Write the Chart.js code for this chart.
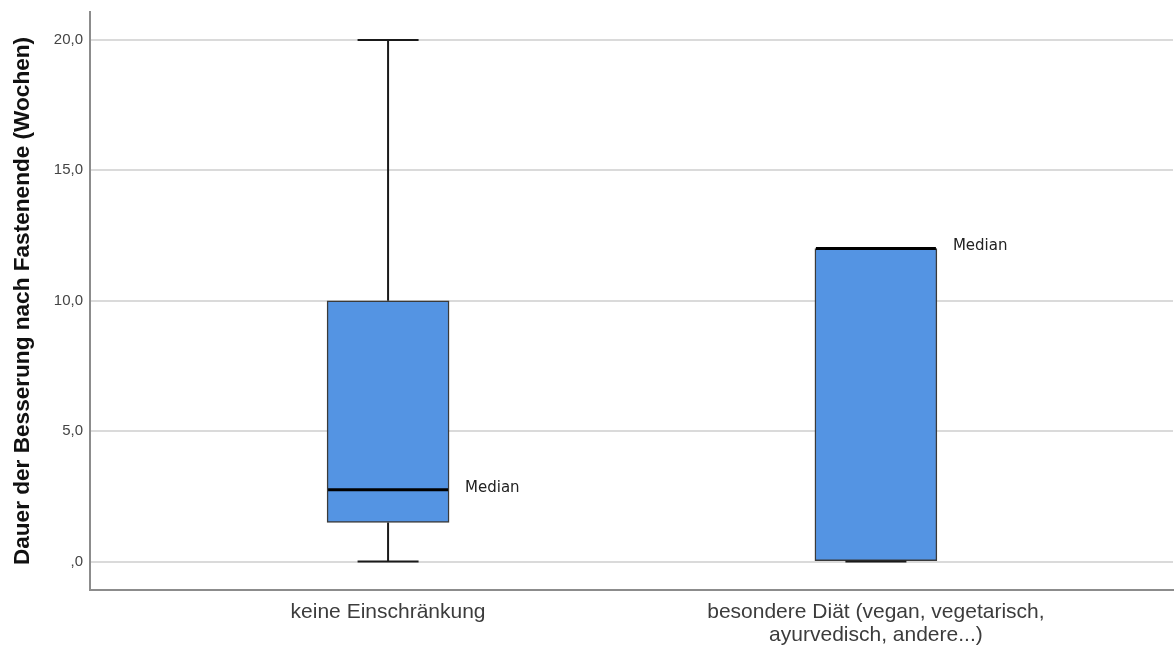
<!DOCTYPE html>
<html lang="de">
<head>
<meta charset="utf-8">
<title>Dauer der Besserung nach Fastenende</title>
<script src="https://cdn.jsdelivr.net/npm/chart.js@4/dist/chart.umd.min.js"></script>
<style>
  html, body { margin: 0; padding: 0; background: #fff; }
  #wrap { width: 1176px; height: 648px; position: relative; }
</style>
</head>
<body>
<div id="wrap"><canvas id="boxChart"></canvas></div>
<script>
// Gruppen (x-Achse)
var categories = [
    ["keine Einschränkung"],
    ["besondere Diät (vegan, vegetarisch,", "ayurvedisch, andere...)"]
];

// Kennwerte pro Gruppe (Wochen)
var whiskerMin = [0, 0];
var quartile1  = [1.5, 0];
var medians    = [2.75, 12];
var quartile3  = [10, 12];
var whiskerMax = [20, 12];

var yTicks = [0, 5, 10, 15, 20];

function formatKomma(val) {
    // SPSS-Stil: 0 wird als ",0" angezeigt
    if (val === 0) return ",0";
    return Number(val).toFixed(1).replace(".", ",");
}

// Box als schwebender Balken [Q1, Q3]
var boxData = [];
for (var i = 0; i < categories.length; i++) {
    boxData.push({ x: i, y: [quartile1[i], quartile3[i]] });
}

// Whisker, Kappen und Median zeichnen
var boxplotExtras = {
    id: "boxplotExtras",
    afterDatasetsDraw: function (chart) {
        var ctx = chart.ctx;
        var xs = chart.scales.x;
        var ys = chart.scales.y;
        var meta = chart.getDatasetMeta(0);

        ctx.save();
        for (var i = 0; i < categories.length; i++) {
            var bar = meta.data[i];
            var half = bar.width / 2;
            var cx = xs.getPixelForValue(i);
            var yMin = ys.getPixelForValue(whiskerMin[i]);
            var yMax = ys.getPixelForValue(whiskerMax[i]);
            var yQ1 = ys.getPixelForValue(quartile1[i]);
            var yQ3 = ys.getPixelForValue(quartile3[i]);
            var yMed = ys.getPixelForValue(medians[i]);

            ctx.strokeStyle = "#1a1a1a";
            ctx.lineWidth = 2;
            ctx.beginPath();
            ctx.moveTo(cx, yQ3);
            ctx.lineTo(cx, yMax);
            ctx.moveTo(cx, yQ1);
            ctx.lineTo(cx, yMin);
            // Kappen: halbe Boxbreite
            ctx.moveTo(cx - half / 2, yMax);
            ctx.lineTo(cx + half / 2, yMax);
            ctx.moveTo(cx - half / 2, yMin);
            ctx.lineTo(cx + half / 2, yMin);
            ctx.stroke();

            // Medianlinie
            ctx.lineWidth = 3;
            ctx.strokeStyle = "#000";
            ctx.beginPath();
            ctx.moveTo(cx - half + 1, yMed);
            ctx.lineTo(cx + half - 1, yMed);
            ctx.stroke();

            // Beschriftung rechts neben der Box
            ctx.fillStyle = "#222";
            ctx.font = "15px 'DejaVu Sans'";
            ctx.textAlign = "left";
            ctx.textBaseline = "middle";
            ctx.fillText("Median", cx + half + 16, yMed - 2);
        }
        ctx.restore();
    }
};

new Chart(document.getElementById("boxChart"), {
    type: "bar",
    data: {
        datasets: [{
            data: boxData,
            backgroundColor: "#5494e3",
            borderColor: "#3a3a3a",
            borderWidth: 1.5,
            borderSkipped: false,
            barThickness: 122
        }]
    },
    options: {
        responsive: true,
        maintainAspectRatio: false,
        animation: false,
        layout: { padding: { left: 0, right: 3, top: 12, bottom: 0 } },
        plugins: {
            legend: { display: false },
            tooltip: { enabled: false }
        },
        scales: {
            x: {
                type: "linear",
                offset: false,
                min: -0.611,
                max: 1.609,
                afterBuildTicks: function (axis) {
                    axis.ticks = categories.map(function (c, i) { return { value: i }; });
                },
                afterFit: function (axis) {
                    axis.height = 58;
                },
                ticks: {
                    autoSkip: false,
                    maxRotation: 0,
                    padding: 11,
                    color: "#3c3c3c",
                    font: { family: "'Liberation Sans', Arial", size: 21, lineHeight: 1.1 },
                    callback: function (value) { return categories[value]; }
                },
                grid: { display: false, drawTicks: false, offset: false },
                border: { display: true, color: "#8c8c8c", width: 2 }
            },
            y: {
                min: -1.09,
                max: 21.07,
                afterBuildTicks: function (axis) {
                    axis.ticks = yTicks.map(function (v) { return { value: v }; });
                },
                afterFit: function (axis) {
                    axis.width = 90;
                    // Plotfläche soll direkt am Layout-Padding beginnen
                    axis.paddingTop = 0;
                    axis.paddingBottom = 0;
                },
                ticks: {
                    padding: 7,
                    color: "#444",
                    font: { family: "'Liberation Sans', Arial", size: 15 },
                    callback: function (value) { return formatKomma(value); }
                },
                grid: { color: "#dadada", lineWidth: 2, drawTicks: false },
                border: { display: true, color: "#8c8c8c", width: 2 },
                title: {
                    display: true,
                    text: "Dauer der Besserung nach Fastenende (Wochen)",
                    color: "#111",
                    padding: { top: 9, bottom: 0 },
                    font: { family: "'Liberation Sans', Arial", size: 22.6, weight: "bold" }
                }
            }
        }
    },
    plugins: [boxplotExtras]
});
</script>
</body>
</html>
